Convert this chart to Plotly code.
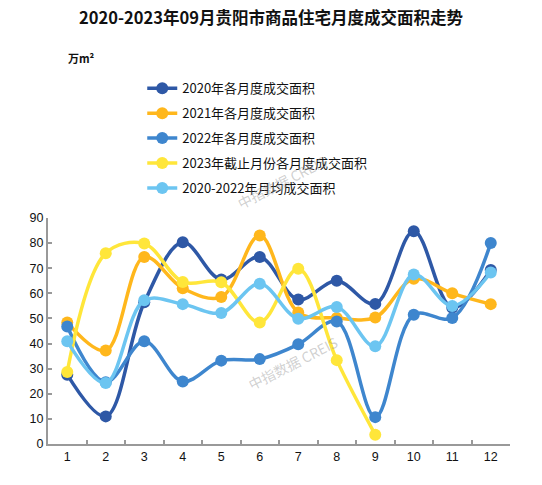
import plotly.graph_objects as go

# months on the x axis
months = [str(m) for m in range(1, 13)]

# monthly residential transaction area, 10k m2
area_2020 = [27.6, 11.0, 56.4, 80.3, 65.5, 74.5, 57.5, 65.0, 55.8, 84.7, 54.3, 69.3]
area_2021 = [48.4, 37.2, 74.5, 62.0, 58.5, 83.0, 52.4, 50.2, 50.4, 65.8, 60.0, 55.7]
area_2022 = [46.8, 24.6, 40.9, 24.9, 33.2, 33.8, 39.7, 48.8, 10.7, 51.5, 50.2, 80.0]
area_2023 = [28.7, 76.0, 79.8, 64.5, 64.4, 48.4, 69.8, 33.4, 3.7]
area_avg = [40.9, 24.3, 57.2, 55.7, 52.2, 63.8, 49.9, 54.6, 38.9, 67.5, 55.0, 68.3]

series = [
    ("2020年各月度成交面积", area_2020, "#2E58A6"),
    ("2021年各月度成交面积", area_2021, "#FFB71C"),
    ("2022年各月度成交面积", area_2022, "#3E86CE"),
    ("2023年截止月份各月度成交面积", area_2023, "#FFE63A"),
    ("2020-2022年月均成交面积", area_avg, "#6CC5F1"),
]

FONT = "Noto Sans CJK SC, Arial, sans-serif"
TICK_FONT = dict(family="Arial, Liberation Sans, sans-serif", size=12.5, color="#111")

fig = go.Figure()

for i, (name, values, color) in enumerate(series):
    fig.add_trace(go.Scatter(
        x=months[:len(values)],
        y=values,
        name=name,
        legendgroup=f"g{i}",
        mode="lines+markers",
        line=dict(color=color, width=3.5, shape="spline", smoothing=1),
        marker=dict(color=color, size=12),
    ))

# watermarks
for wx, wy in [(0.53, 0.358), (0.506, 1.31)]:
    fig.add_annotation(
        x=wx, y=wy, xref="paper", yref="paper",
        text="中指数据 CREIS", showarrow=False, textangle=-27,
        font=dict(family=FONT, size=14, color="rgba(150,150,150,0.45)"),
    )

# unit label
fig.add_annotation(
    x=0.04, y=1.71, xref="paper", yref="paper",
    xanchor="left", yanchor="middle",
    text="<b>万m²</b>", showarrow=False,
    font=dict(family=FONT, size=11, color="#111"),
)

fig.update_layout(
    width=542,
    height=485,
    margin=dict(l=48, r=32, t=218, b=41),
    paper_bgcolor="white",
    plot_bgcolor="white",
    font=dict(family=FONT, size=12, color="#111"),
    title=dict(
        text="<b>2020-2023年09月贵阳市商品住宅月度成交面积走势</b>",
        x=0.5, xanchor="center", y=1 - 18 / 485, yanchor="middle",
        font=dict(size=16.5, color="#111"),
    ),
    legend=dict(
        x=0.204, y=1.64, xanchor="left", yanchor="top",
        font=dict(size=13),
        tracegroupgap=5,
        bgcolor="rgba(0,0,0,0)",
    ),
)

fig.update_xaxes(
    type="category",
    range=[-0.5, 11.5],
    tickson="boundaries",
    ticks="inside", ticklen=4, tickwidth=1.5, tickcolor="#999",
    showline=True, linecolor="#999", linewidth=2,
    showgrid=False, zeroline=False, automargin=False,
    tickfont=TICK_FONT,
)
fig.update_yaxes(
    range=[0, 90], dtick=10,
    ticks="inside", ticklen=4, tickwidth=1.5, tickcolor="#999",
    showline=True, linecolor="#999", linewidth=2,
    showgrid=False, zeroline=False, automargin=False,
    tickfont=TICK_FONT,
)

# drop the default page margin so the figure sits at the window origin
fig.write_html(
    "out.html",
    config={"displayModeBar": False},
    post_script="document.body.style.margin='0';",
)
